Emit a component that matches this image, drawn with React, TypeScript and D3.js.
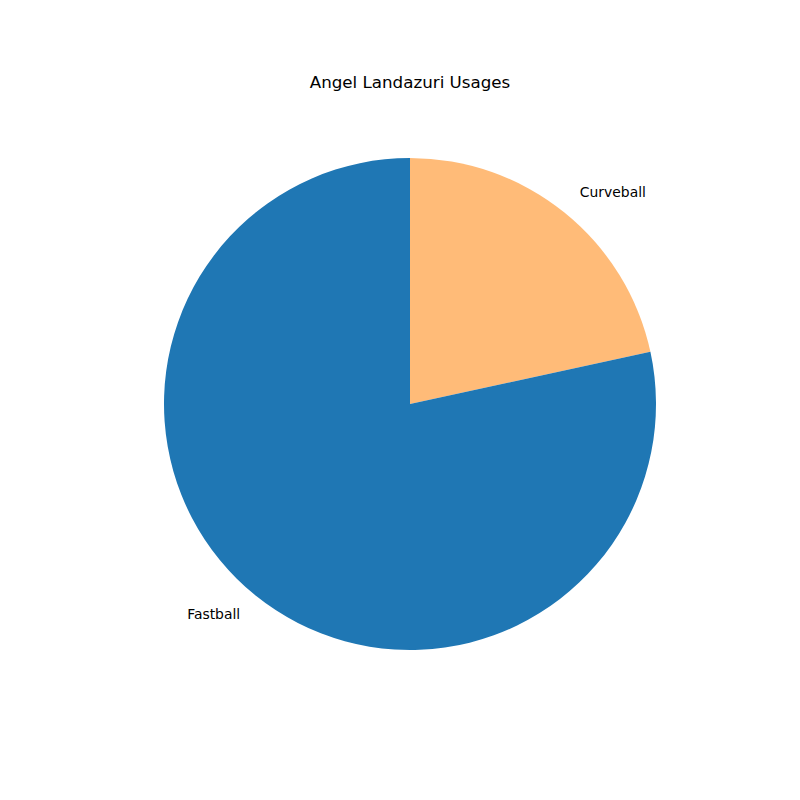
import React, { useEffect, useRef } from "react";
import * as d3 from "d3";

const pitches = ["Curveball", "Fastball"];
const usage = [21.6, 78.4];
const colors = ["#ffbb78", "#1f77b4"];
const title = "Angel Landazuri Usages";

export default function App() {
  const ref = useRef<SVGSVGElement>(null);

  useEffect(() => {
    const width = 800,
      height = 800;
    const cx = 410,
      cy = 404,
      radius = 246;

    const svg = d3.select(ref.current);
    svg.selectAll("*").remove();
    svg.attr("width", width).attr("height", height);

    svg
      .append("rect")
      .attr("width", width)
      .attr("height", height)
      .attr("fill", "#fff");

    const data = pitches.map((name, i) => ({ name, value: usage[i], color: colors[i] }));

    const pie = d3
      .pie<{ name: string; value: number; color: string }>()
      .sort(null)
      .value((d) => d.value);

    const arcs = pie(data);
    const arc = d3.arc<any>().innerRadius(0).outerRadius(radius);
    const labelArc = d3.arc<any>().innerRadius(radius * 1.1).outerRadius(radius * 1.1);

    const g = svg.append("g").attr("transform", `translate(${cx},${cy})`);

    // Wedges
    g.selectAll("path")
      .data(arcs)
      .enter()
      .append("path")
      .attr("d", arc)
      .attr("fill", (d) => d.data.color);

    // Labels
    g.selectAll("text")
      .data(arcs)
      .enter()
      .append("text")
      .attr("x", (d) => labelArc.centroid(d)[0])
      .attr("y", (d) => labelArc.centroid(d)[1] - 1)
      .attr("text-anchor", (d) => (labelArc.centroid(d)[0] >= 0 ? "start" : "end"))
      .attr("dominant-baseline", "central")
      .style("font-family", "DejaVu Sans, sans-serif")
      .style("font-size", "13.9px")
      .attr("fill", "#000")
      .text((d) => d.data.name);

    // Title
    svg
      .append("text")
      .attr("x", cx)
      .attr("y", 82)
      .attr("text-anchor", "middle")
      .attr("dominant-baseline", "central")
      .style("font-family", "DejaVu Sans, sans-serif")
      .style("font-size", "16.7px")
      .attr("fill", "#000")
      .text(title);
  }, []);

  return (
    <svg
      ref={ref}
      style={{ position: "absolute", top: 0, left: 0, display: "block" }}
    />
  );
}
